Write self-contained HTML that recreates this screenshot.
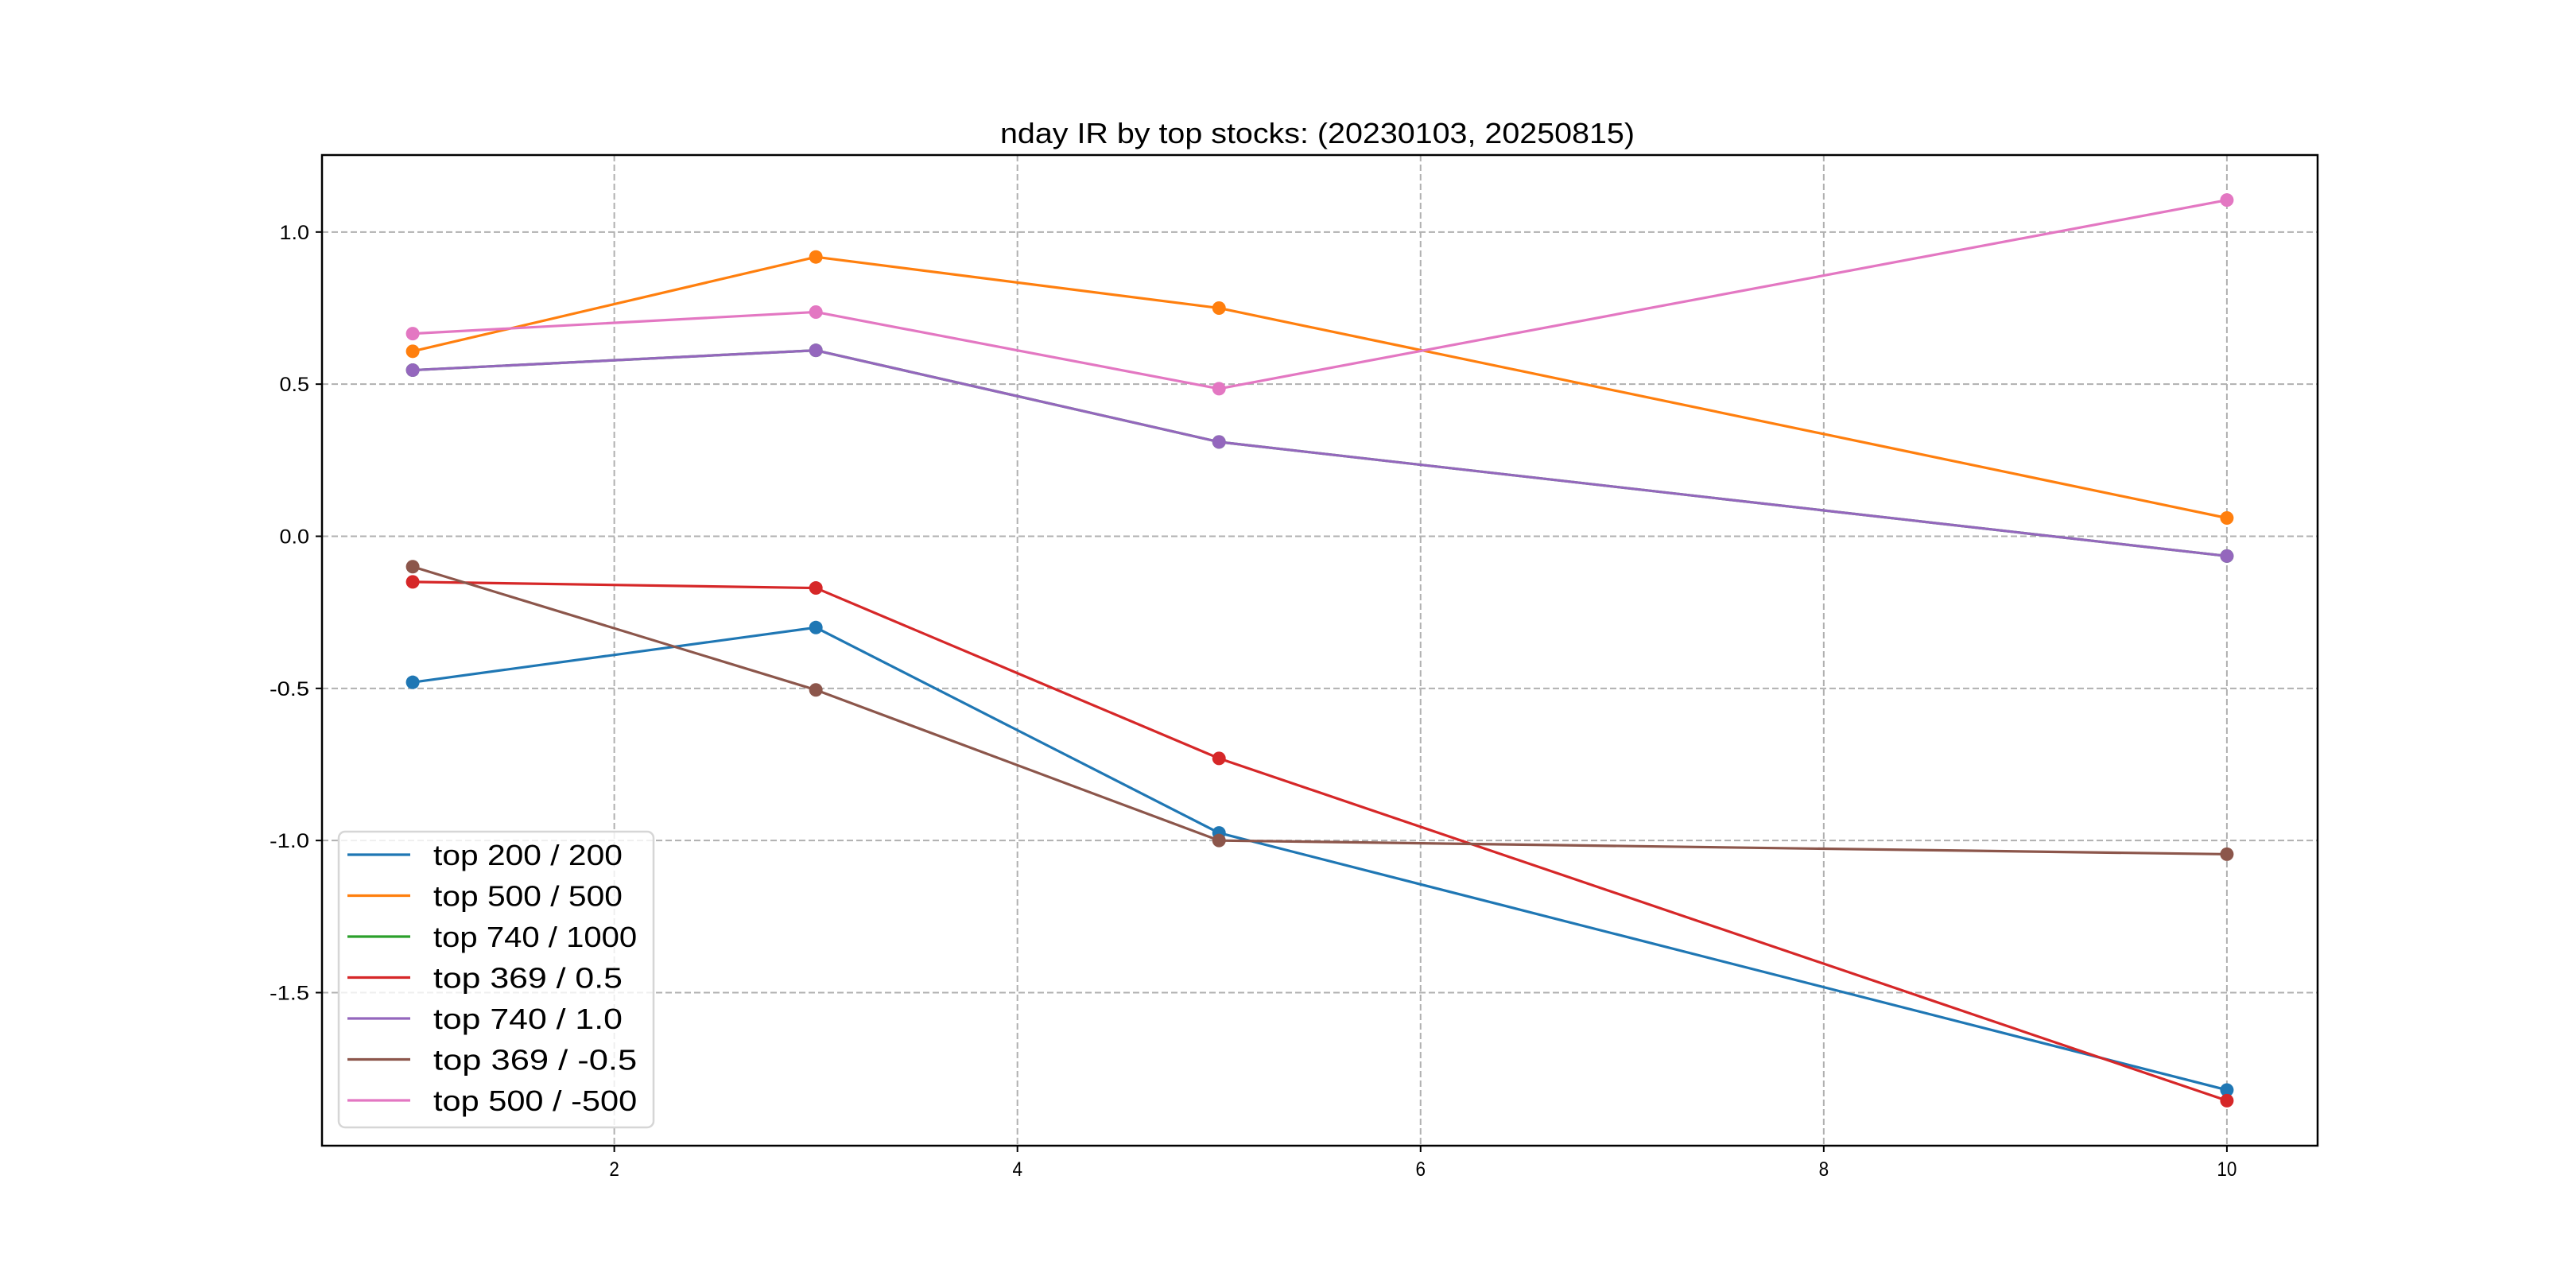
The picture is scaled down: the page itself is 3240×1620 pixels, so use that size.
<!DOCTYPE html>
<html><head><meta charset="utf-8"><style>
html,body{margin:0;padding:0;background:#fff;}
svg{display:block;}
text{font-family:"WenQuanYi Zen Hei","Liberation Sans","Noto Sans CJK SC",sans-serif;fill:#000;}
</style></head><body>
<svg id="chart" width="3240" height="1620" viewBox="0 0 3240 1620" xmlns="http://www.w3.org/2000/svg">
<rect width="3240" height="1620" fill="#fff"/>
<text x="1657" y="180" font-size="36" text-anchor="middle" textLength="798" lengthAdjust="spacingAndGlyphs">nday IR by top stocks: (20230103, 20250815)</text>
<g id="grid"></g><g id="series"></g><g id="axes"></g><g id="legend"></g>
</svg>
<script>
const xValues = [1, 3, 5, 10];
const seriesNames = ["top 200 / 200","top 500 / 500","top 740 / 1000","top 369 / 0.5","top 740 / 1.0","top 369 / -0.5","top 500 / -500"];
const seriesColors = ["#1f77b4","#ff7f0e","#2ca02c","#d62728","#9467bd","#8c564b","#e377c2"];
const s200 = [-0.48, -0.30, -0.975, -1.82];
const s500 = [0.608, 0.918, 0.75, 0.06];
const s740k = [0.546, 0.611, 0.31, -0.065];
const s369p = [-0.15, -0.17, -0.73, -1.855];
const s740f = [0.546, 0.611, 0.31, -0.065];
const s369n = [-0.10, -0.505, -1.0, -1.045];
const s500n = [0.666, 0.737, 0.485, 1.105];
const xTicks = [2, 4, 6, 8, 10];
const yTicks = [-1.5, -1.0, -0.5, 0.0, 0.5, 1.0];
const yTickLabels = ["-1.5","-1.0","-0.5","0.0","0.5","1.0"];

const allSeries = [s200, s500, s740k, s369p, s740f, s369n, s500n];
const NS = "http://www.w3.org/2000/svg";
const L = 405, R = 2915, T = 195, B = 1441;
const xmin0 = Math.min(...xValues), xmax0 = Math.max(...xValues);
const xmg = (xmax0 - xmin0) * 0.05;
const xlo = xmin0 - xmg, xhi = xmax0 + xmg;
const allV = allSeries.flat();
const ymin0 = Math.min(...allV), ymax0 = Math.max(...allV);
const ymg = (ymax0 - ymin0) * 0.05;
const ylo = ymin0 - ymg, yhi = ymax0 + ymg;
function sx(v){ return L + (v - xlo) / (xhi - xlo) * (R - L); }
function sy(v){ return B - (v - ylo) / (yhi - ylo) * (B - T); }
function mk(tag, attrs, parent){ const e = document.createElementNS(NS, tag); for (const k in attrs) e.setAttribute(k, attrs[k]); parent.appendChild(e); return e; }

const grid = document.getElementById('grid');
const axes = document.getElementById('axes');
xTicks.forEach(t => {
  const X = sx(t);
  const g = mk('line', {x1:X, x2:X, y1:T, y2:B, stroke:'#b0b0b0', 'stroke-width':2, 'stroke-dasharray':'8,4'}, grid);
  
  
  const tk = mk('line', {x1:X, x2:X, y1:B, y2:B+8, stroke:'#000', 'stroke-width':2}, axes);
  
  
  const lb = mk('text', {x:X, y:B+38, 'font-size':25, 'text-anchor':'middle'}, axes);
  lb.textContent = String(t);
  lb.setAttribute('textLength', 12.5 * String(t).length);
  lb.setAttribute('lengthAdjust', 'spacingAndGlyphs');
  
  
});
yTicks.forEach((t, i) => {
  const Y = sy(t);
  const g = mk('line', {x1:L, x2:R, y1:Y, y2:Y, stroke:'#b0b0b0', 'stroke-width':2, 'stroke-dasharray':'8,4'}, grid);
  
  
  const tk = mk('line', {x1:L-8, x2:L, y1:Y, y2:Y, stroke:'#000', 'stroke-width':2}, axes);
  
  
  const lb = mk('text', {x:L-16, y:Y+9, 'font-size':25, 'text-anchor':'end'}, axes);
  lb.textContent = yTickLabels[i];
  lb.setAttribute('textLength', 12.5 * yTickLabels[i].length);
  lb.setAttribute('lengthAdjust', 'spacingAndGlyphs');
  
  
});
const frame = mk('rect', {x:L, y:T, width:R-L, height:B-T, fill:'none', stroke:'#000', 'stroke-width':2.5}, axes);



const sg = document.getElementById('series');
allSeries.forEach((vals, si) => {
  const g = mk('g', {}, sg);
  
  
  const pts = vals.map((v, i) => sx(xValues[i]) + ',' + sy(v)).join(' ');
  const pl = mk('polyline', {points:pts, fill:'none', stroke:seriesColors[si], 'stroke-width':3.2, 'stroke-linejoin':'round'}, g);
  
  
  vals.forEach((v, i) => {
    const c = mk('circle', {cx:sx(xValues[i]), cy:sy(v), r:8.5, fill:seriesColors[si]}, g);
    
    
  });
});

const lg = document.getElementById('legend');
const box = mk('rect', {x:426, y:1046, width:396, height:372, rx:8, fill:'#fff', 'fill-opacity':0.8, stroke:'#d6d6d6', 'stroke-width':2.5}, lg);


seriesNames.forEach((n, i) => {
  const Y = 1075 + i * 51.5;
  const g = mk('g', {}, lg);
  
  
  mk('line', {x1:437, x2:516, y1:Y, y2:Y, stroke:seriesColors[i], 'stroke-width':3.2}, g);
  const t = mk('text', {x:545, y:Y+13, 'font-size':36}, g);
  t.textContent = n;
  t.setAttribute('textLength', 18.3 * n.length);
  t.setAttribute('lengthAdjust', 'spacingAndGlyphs');
});
</script>
</body></html>
